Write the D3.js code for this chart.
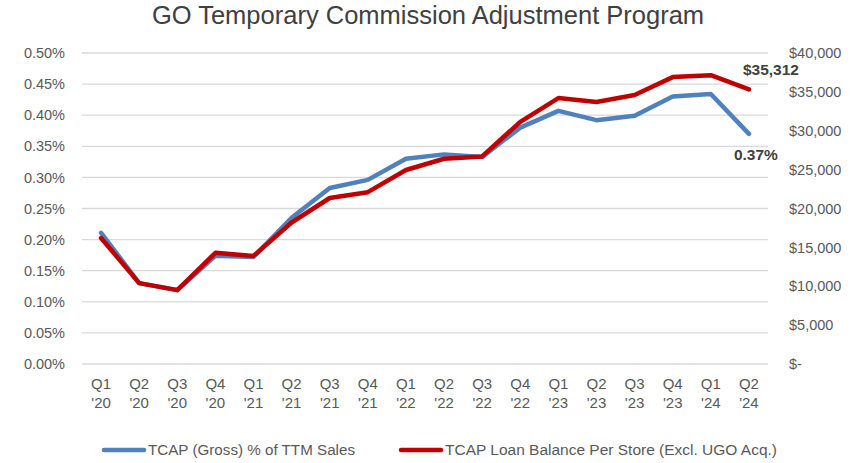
<!DOCTYPE html>
<html>
<head>
<meta charset="utf-8">
<script src="https://cdn.jsdelivr.net/npm/d3@7"></script>
<style>
  body { margin: 0; background: #fff; }
  text { font-family: "Liberation Sans", Arial, sans-serif; }
</style>
</head>
<body>
<div id="chart"></div>
<script>
const quarters = ["Q1", "Q2", "Q3", "Q4", "Q1", "Q2", "Q3", "Q4", "Q1", "Q2", "Q3", "Q4", "Q1", "Q2", "Q3", "Q4", "Q1", "Q2"];
const years = ["'20", "'20", "'20", "'20", "'21", "'21", "'21", "'21", "'22", "'22", "'22", "'22", "'23", "'23", "'23", "'23", "'24", "'24"];
// TCAP (Gross) % of TTM Sales, in percent
const grossPct = [0.211, 0.130, 0.119, 0.174, 0.172, 0.235, 0.283, 0.296, 0.330, 0.337, 0.333, 0.380, 0.407, 0.392, 0.399, 0.430, 0.434, 0.370];
// TCAP loan balance per store, dollars
const loanBalance = [16200, 10400, 9500, 14300, 13900, 18200, 21350, 22100, 24950, 26400, 26700, 31150, 34200, 33700, 34600, 36900, 37150, 35312];
const leftTicks = [0, 0.05, 0.10, 0.15, 0.20, 0.25, 0.30, 0.35, 0.40, 0.45, 0.50];
const rightTicks = [0, 5000, 10000, 15000, 20000, 25000, 30000, 35000, 40000];

const width = 856, height = 463;
const margin = { top: 53, bottom: 99, left: 82, right: 88 };
const labels = quarters.map((q, i) => ({ q: q, y: years[i] }));

const svg = d3.select("#chart").append("svg")
  .attr("width", width)
  .attr("height", height);

const x = d3.scalePoint()
  .domain(d3.range(labels.length))
  .range([margin.left, width - margin.right])
  .padding(0.5);

const yLeft = d3.scaleLinear()
  .domain([0, 0.5])
  .range([height - margin.bottom, margin.top]);

const yRight = d3.scaleLinear()
  .domain([0, 40000])
  .range([height - margin.bottom, margin.top]);

// title
svg.append("text")
  .attr("x", 428)
  .attr("y", 24)
  .attr("text-anchor", "middle")
  .attr("font-size", "25.5px")
  .attr("fill", "#404040")
  .text("GO Temporary Commission Adjustment Program");

// gridlines
svg.append("g")
  .selectAll("line")
  .data(leftTicks)
  .join("line")
    .attr("x1", margin.left)
    .attr("x2", width - margin.right)
    .attr("y1", d => yLeft(d))
    .attr("y2", d => yLeft(d))
    .attr("stroke", "#d9d9d9")
    .attr("stroke-width", 1.3);

// left axis
const axisL = svg.append("g")
  .attr("transform", `translate(${margin.left},0)`)
  .call(d3.axisLeft(yLeft).tickValues(leftTicks).tickSize(0).tickPadding(17)
    .tickFormat(d => d3.format(".2f")(d) + "%"));
axisL.select(".domain").remove();
axisL.selectAll("text")
  .attr("font-size", "14.5px")
  .attr("fill", "#595959")
  .attr("font-family", "Liberation Sans, Arial, sans-serif");

// right axis
const axisR = svg.append("g")
  .attr("transform", `translate(${width - margin.right},0)`)
  .call(d3.axisRight(yRight).tickValues(rightTicks).tickSize(0).tickPadding(21)
    .tickFormat(d => d === 0 ? "$-" : "$" + d3.format(",")(d)));
axisR.select(".domain").remove();
axisR.selectAll("text")
  .attr("font-size", "14.5px")
  .attr("fill", "#595959")
  .attr("font-family", "Liberation Sans, Arial, sans-serif");

// x labels (two lines)
const xl = svg.append("g")
  .selectAll("text")
  .data(labels)
  .join("text")
    .attr("x", (d, i) => x(i))
    .attr("y", 389)
    .attr("text-anchor", "middle")
    .attr("font-size", "15px")
    .attr("fill", "#595959");
xl.append("tspan").attr("x", (d, i) => x(i)).text(d => d.q);
xl.append("tspan").attr("x", (d, i) => x(i)).attr("dy", 19).text(d => d.y);

// lines
const blueLine = d3.line().x((d, i) => x(i)).y(d => yLeft(d));
const redLine = d3.line().x((d, i) => x(i)).y(d => yRight(d));

svg.append("path")
  .datum(grossPct)
  .attr("d", blueLine)
  .attr("fill", "none")
  .attr("stroke", "#4f81bd")
  .attr("stroke-width", 4.5)
  .attr("stroke-linejoin", "round")
  .attr("stroke-linecap", "round");

svg.append("path")
  .datum(loanBalance)
  .attr("d", redLine)
  .attr("fill", "none")
  .attr("stroke", "#c00000")
  .attr("stroke-width", 4.5)
  .attr("stroke-linejoin", "round")
  .attr("stroke-linecap", "round");

// end data labels
const last = labels.length - 1;
svg.append("text")
  .attr("x", x(last) - 6)
  .attr("y", yRight(loanBalance[last]) - 14)
  .attr("font-size", "15.5px")
  .attr("font-weight", "bold")
  .attr("fill", "#404040")
  .text("$" + d3.format(",")(loanBalance[last]));

svg.append("text")
  .attr("x", x(last) - 15)
  .attr("y", yLeft(grossPct[last]) + 26)
  .attr("font-size", "15.5px")
  .attr("font-weight", "bold")
  .attr("fill", "#404040")
  .text(d3.format(".2f")(grossPct[last]) + "%");

// legend
const legend = [
  { name: "TCAP (Gross) % of TTM Sales", color: "#4f81bd", x: 103, w: 207 },
  { name: "TCAP Loan Balance Per Store (Excl. UGO Acq.)", color: "#c00000", x: 400, w: 332 }
];
const lg = svg.append("g").selectAll("g").data(legend).join("g")
  .attr("transform", d => `translate(${d.x},450)`);
lg.append("line")
  .attr("x1", 1).attr("x2", 41)
  .attr("stroke", d => d.color)
  .attr("stroke-width", 4.5)
  .attr("stroke-linecap", "round");
lg.append("text")
  .attr("x", 45)
  .attr("dy", "0.35em")
  .attr("font-size", "15.5px")
  .attr("fill", "#595959")
  .attr("textLength", d => d.w)
  .attr("lengthAdjust", "spacingAndGlyphs")
  .text(d => d.name);
</script>
</body>
</html>
